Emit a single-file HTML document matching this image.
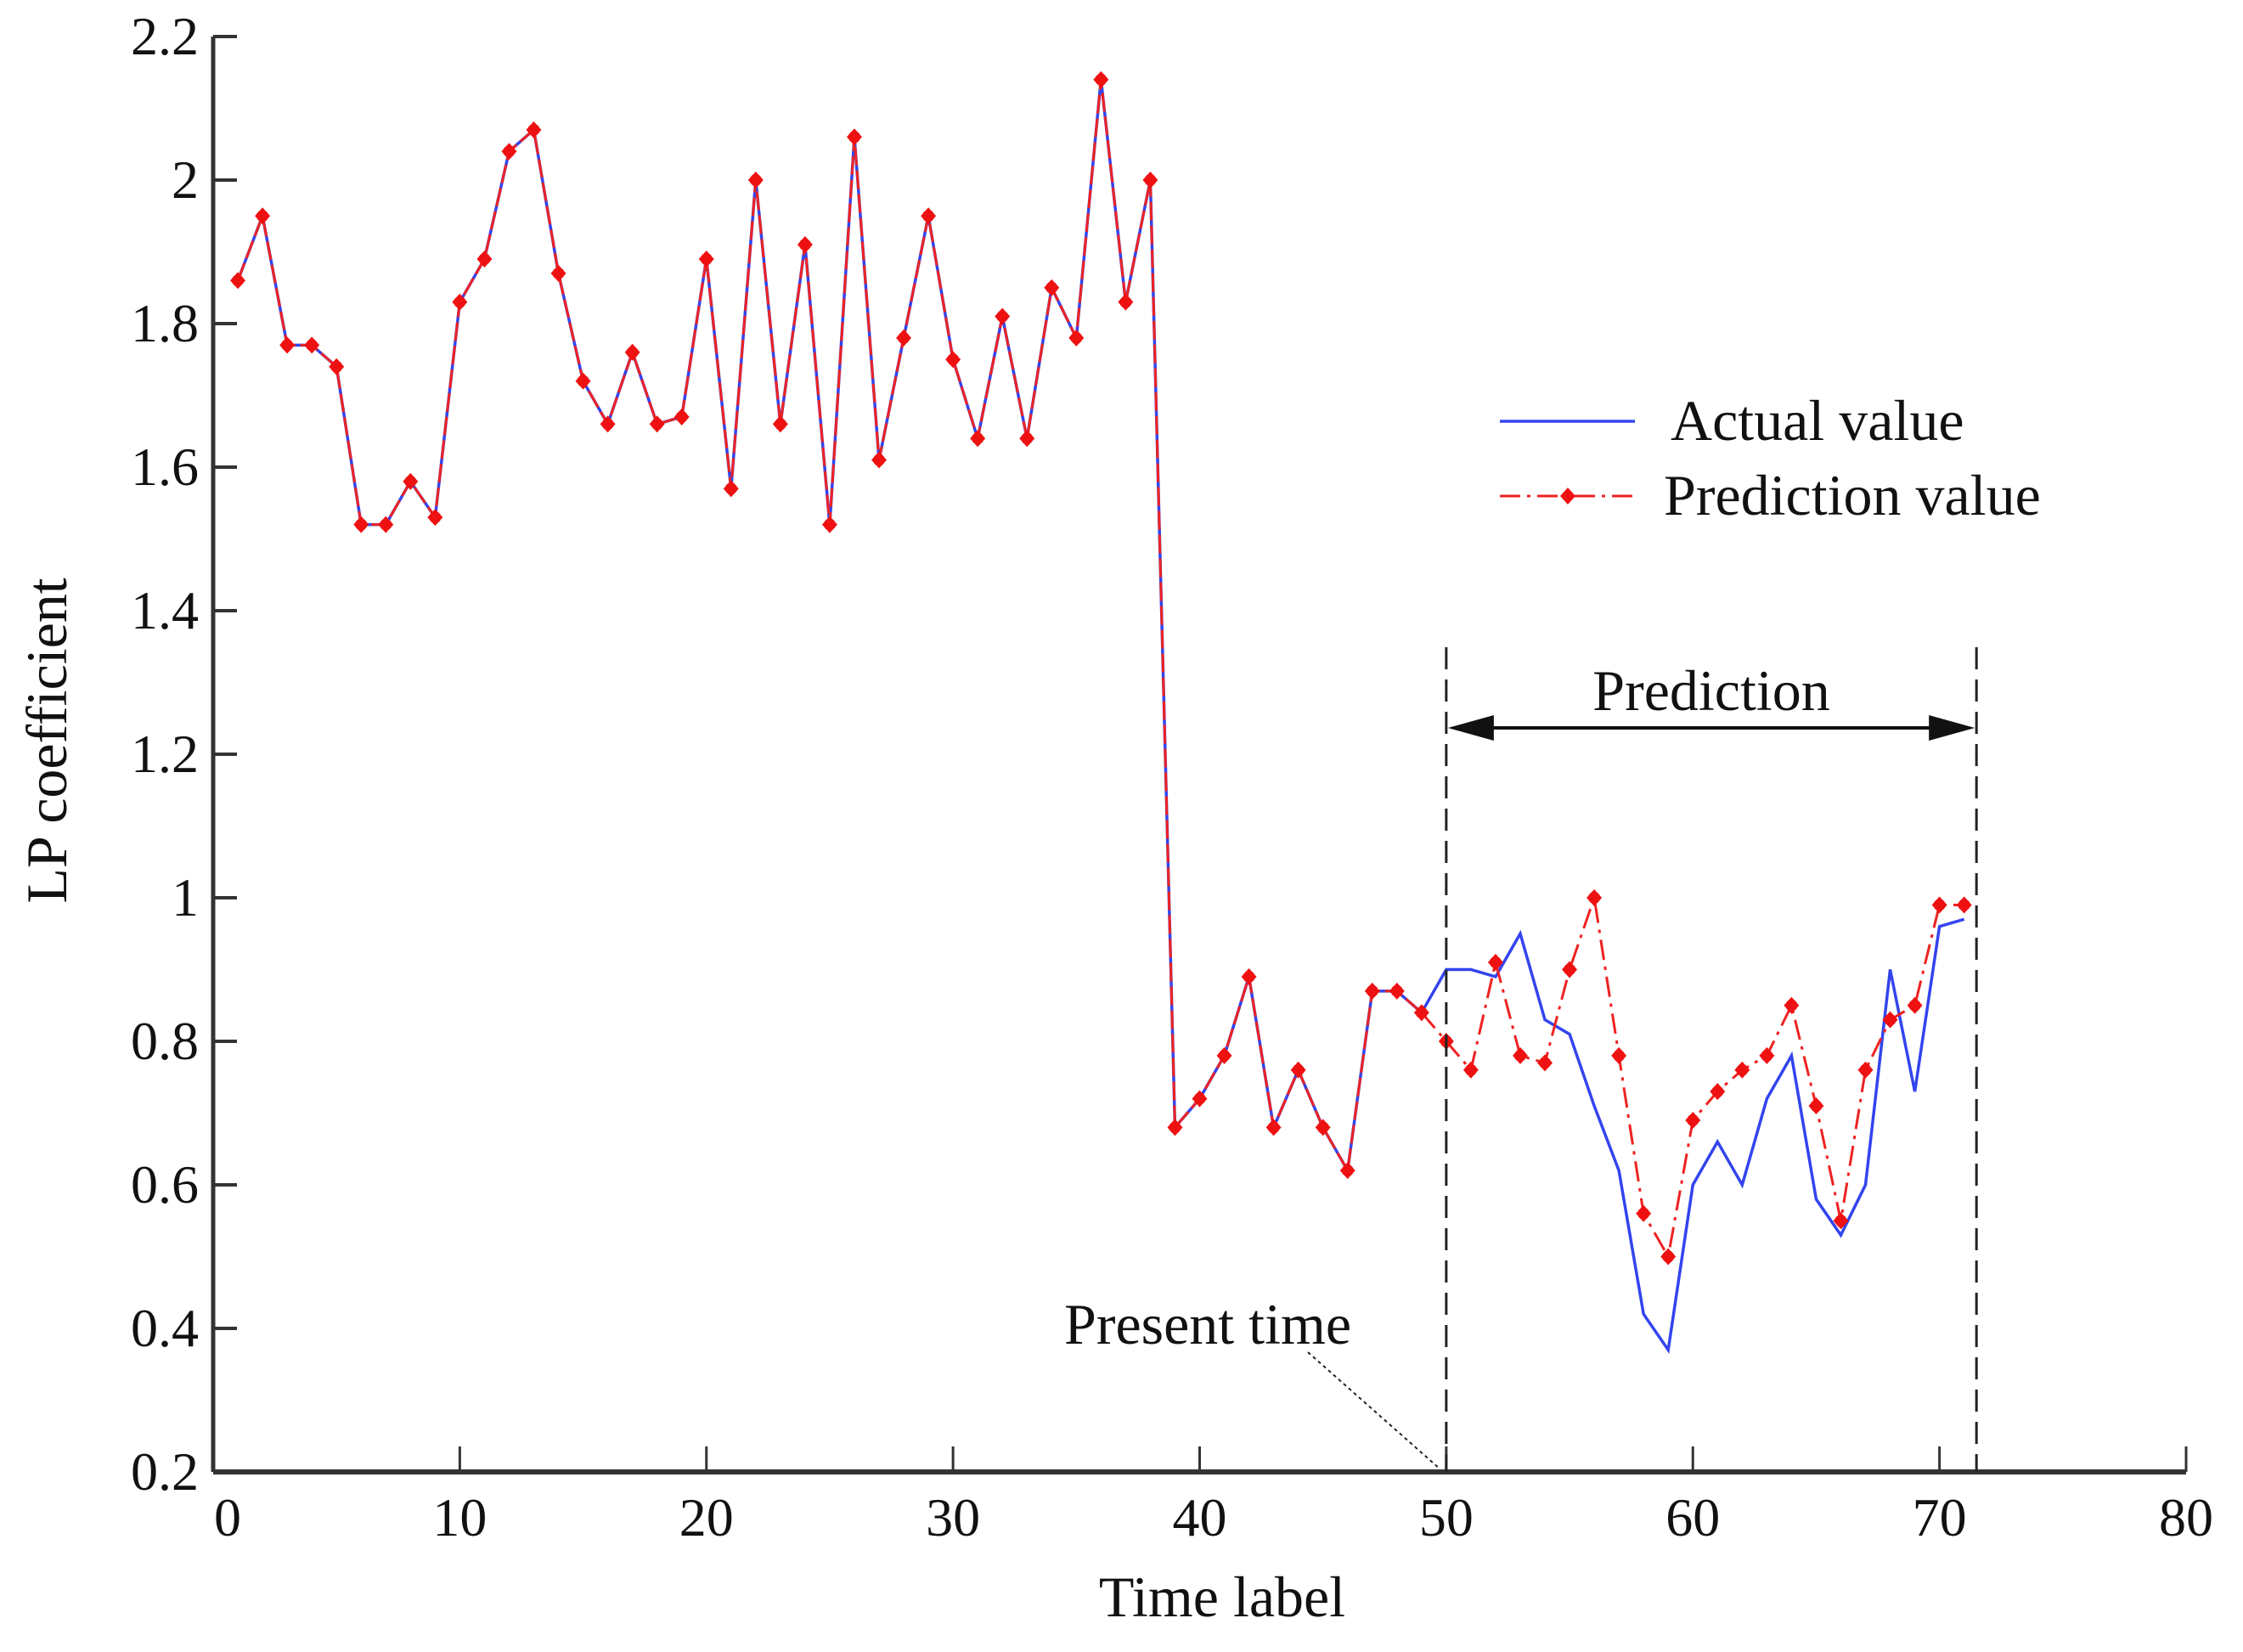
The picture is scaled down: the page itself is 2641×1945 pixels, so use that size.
<!DOCTYPE html>
<html><head><meta charset="utf-8"><style>
html,body{margin:0;padding:0;background:#fff}
svg{display:block}
text{font-family:"Liberation Serif",serif;fill:#111}
</style></head><body>
<svg id="chart" width="2641" height="1945" viewBox="0 0 2641 1945" xmlns="http://www.w3.org/2000/svg">
<g id="axes"></g>
<g id="series"></g>
<g id="annot"></g>
</svg>
<script>
const timeLabels = [1,2,3,4,5,6,7,8,9,10,11,12,13,14,15,16,17,18,19,20,21,22,23,24,25,26,27,28,29,30,31,32,33,34,35,36,37,38,39,40,41,42,43,44,45,46,47,48,49,50,51,52,53,54,55,56,57,58,59,60,61,62,63,64,65,66,67,68,69,70,71];
const actualValues = [1.86,1.95,1.77,1.77,1.74,1.52,1.52,1.58,1.53,1.83,1.89,2.04,2.07,1.87,1.72,1.66,1.76,1.66,1.67,1.89,1.57,2.00,1.66,1.91,1.52,2.06,1.61,1.78,1.95,1.75,1.64,1.81,1.64,1.85,1.78,2.14,1.83,2.00,0.68,0.72,0.78,0.89,0.68,0.76,0.68,0.62,0.87,0.87,0.84,0.90,0.90,0.89,0.95,0.83,0.81,0.71,0.62,0.42,0.37,0.60,0.66,0.60,0.72,0.78,0.58,0.53,0.60,0.90,0.73,0.96,0.97];
const predictedValues = [1.86,1.95,1.77,1.77,1.74,1.52,1.52,1.58,1.53,1.83,1.89,2.04,2.07,1.87,1.72,1.66,1.76,1.66,1.67,1.89,1.57,2.00,1.66,1.91,1.52,2.06,1.61,1.78,1.95,1.75,1.64,1.81,1.64,1.85,1.78,2.14,1.83,2.00,0.68,0.72,0.78,0.89,0.68,0.76,0.68,0.62,0.87,0.87,0.84,0.80,0.76,0.91,0.78,0.77,0.90,1.00,0.78,0.56,0.50,0.69,0.73,0.76,0.78,0.85,0.71,0.55,0.76,0.83,0.85,0.99,0.99];
const xTicks = [0,10,20,30,40,50,60,70,80];
const yTicks = [0.2,0.4,0.6,0.8,1,1.2,1.4,1.6,1.8,2,2.2];
const presentTime = 50, predictionEnd = 71.5;

const NS="http://www.w3.org/2000/svg";
const X0=251,X1=2574,Y0=1733,Y1=43;
const sx=v=>X0+(v-0)/80*(X1-X0);
const sy=v=>Y0-(v-0.2)/2.0*(Y0-Y1);
function mk(tag,attrs,parent,txt){const e=document.createElementNS(NS,tag);for(const k in attrs)e.setAttribute(k,attrs[k]);if(txt!==undefined)e.textContent=txt;parent.appendChild(e);return e;}
const axes=document.getElementById('axes'),series=document.getElementById('series'),annot=document.getElementById('annot');

let e=mk('line',{x1:X0,y1:Y0,x2:X1,y2:Y0,stroke:'#333','stroke-width':6},axes);

e=mk('line',{x1:X0,y1:Y0,x2:X0,y2:Y1,stroke:'#333','stroke-width':5},axes);

xTicks.forEach(t=>{
 const x=sx(t);
 let l=mk('line',{x1:x,y1:Y0,x2:x,y2:Y0-30,stroke:'#333','stroke-width':3},axes);
 
 let tx=mk('text',{x:x+(t===0?17:0),y:1808,'font-size':64,'text-anchor':'middle'},axes,String(t));
 
});
yTicks.forEach(t=>{
 const y=sy(t);
 let l=mk('line',{x1:X0,y1:y,x2:X0+28,y2:y,stroke:'#333','stroke-width':4},axes);
 
 let tx=mk('text',{x:234,y:y+21,'font-size':64,'text-anchor':'end'},axes,String(t));
 
});
e=mk('text',{x:1439,y:1903,'font-size':68,'text-anchor':'middle'},axes,'Time label');

e=mk('text',{x:0,y:0,'font-size':68,'text-anchor':'middle',transform:'translate(78,872) rotate(-90)'},axes,'LP coefficient');


const ptsA=timeLabels.map((t,i)=>sx(t)+','+sy(actualValues[i])).join(' ');
e=mk('polyline',{points:ptsA,fill:'none',stroke:'#3344ee','stroke-width':3.5},series);

const idx=timeLabels.indexOf(presentTime);
const pre=timeLabels.slice(0,idx).map((t,i)=>sx(t)+','+sy(predictedValues[i])).join(' ');
const post=timeLabels.slice(idx-1).map((t,i)=>sx(t)+','+sy(predictedValues[i+idx-1])).join(' ');
e=mk('polyline',{points:pre,fill:'none',stroke:'#ee2222','stroke-width':3,'stroke-dasharray':'22 6'},series);

e=mk('polyline',{points:post,fill:'none',stroke:'#ee2222','stroke-width':3,'stroke-dasharray':'24 8 4 8'},series);

timeLabels.forEach((t,i)=>{
 const x=sx(t),y=sy(predictedValues[i]);
 let m=mk('path',{d:`M${x},${y-10}L${x+9},${y}L${x},${y+10}L${x-9},${y}Z`,fill:'#ee1111'},series);
 
 let c=mk('circle',{cx:x,cy:y,r:7,fill:'#ee1111'},series);
 
});

const xa=sx(presentTime),xb=sx(predictionEnd);
[xa,xb].forEach(x=>{
 let l=mk('line',{x1:x,y1:762,x2:x,y2:Y0,stroke:'#222','stroke-width':3,'stroke-dasharray':'26 12'},annot);
 
});
e=mk('line',{x1:xa+50,y1:857,x2:xb-50,y2:857,stroke:'#111','stroke-width':4},annot);

e=mk('path',{d:`M${xa+2},857 L${xa+56},842 L${xa+56},872 Z M${xb-2},857 L${xb-56},842 L${xb-56},872 Z`,fill:'#111'},annot);

e=mk('text',{x:(xa+xb)/2,y:836,'font-size':68,'text-anchor':'middle'},annot,'Prediction');

e=mk('text',{x:1253,y:1582,'font-size':68},annot,'Present time');

e=mk('line',{x1:1540,y1:1592,x2:xa-8,y2:Y0-4,stroke:'#222','stroke-width':2,'stroke-dasharray':'4 4'},annot);


e=mk('line',{x1:1766,y1:496,x2:1925,y2:496,stroke:'#3344ee','stroke-width':3.5},annot);

e=mk('text',{x:1967,y:518,'font-size':68},annot,'Actual value');

e=mk('line',{x1:1766,y1:584,x2:1925,y2:584,stroke:'#ee2222','stroke-width':3,'stroke-dasharray':'24 8 4 8'},annot);

e=mk('path',{d:'M1846,574L1855,584L1846,594L1837,584Z',fill:'#ee1111'},annot);

e=mk('text',{x:1959,y:606,'font-size':68},annot,'Prediction value');

</script>
</body></html>
